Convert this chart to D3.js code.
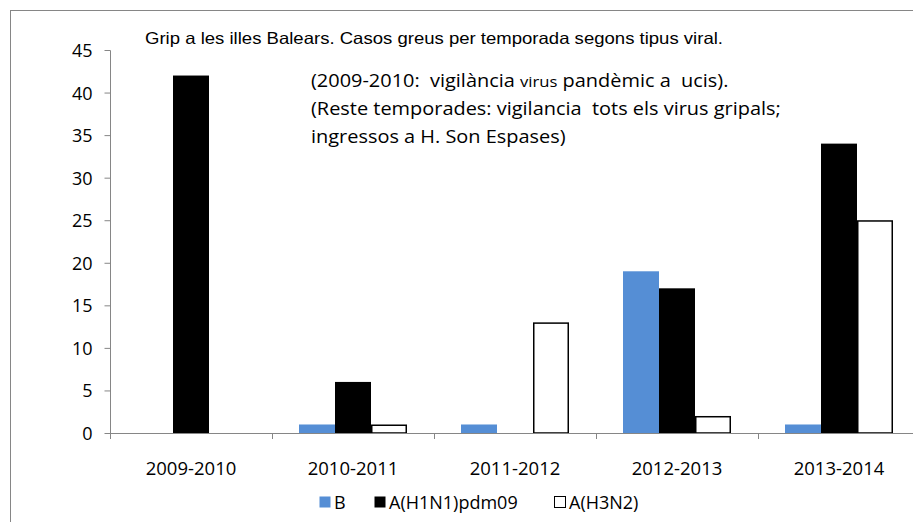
<!DOCTYPE html>
<html><head><meta charset="utf-8">
<script src="https://cdn.jsdelivr.net/npm/d3@7/dist/d3.min.js"></script>
<style>
html,body{margin:0;padding:0;background:#fff;}
svg{display:block;}
text{font-family:"Open Sans",sans-serif;fill:#000;}
</style></head>
<body>
<svg id="chart" width="913" height="522"></svg>
<script>
const categories = ["2009-2010","2010-2011","2011-2012","2012-2013","2013-2014"];
const seriesNames = ["B","A(H1N1)pdm09","A(H3N2)"];
const valuesB = [0,1,1,19,1];
const valuesH1N1 = [42,6,0,17,34];
const valuesH3N2 = [0,1,13,2,25];
const yTicks = [0,5,10,15,20,25,30,35,40,45];
const titleText = "Grip a les illes Balears. Casos greus per temporada segons tipus viral.";
const noteLines = [
  [["(2009-2010:  vigilància ",18],["virus",15],[" pandèmic a  ucis).",18]],
  [["(Reste temporades: vigilancia  tots els virus gripals;",18]],
  [["ingressos a H. Son Espases)",18]]
];

const seriesValues = [valuesB, valuesH1N1, valuesH3N2];
const fills = ["#558ED5","#000000","#FFFFFF"];
const strokes = ["none","none","#000000"];

const svg = d3.select("#chart");
const axisColor = "#868686";

// outer frame (cropped at right/bottom)
svg.append("rect").attr("x",10.5).attr("y",10.5).attr("width",1000).attr("height",600)
  .attr("fill","none").attr("stroke",axisColor).attr("stroke-width",1);

const x0 = d3.scaleBand().domain(categories).range([110,920]).padding(0);
const x1 = d3.scaleBand().domain(seriesNames).range([0,x0.bandwidth()]).paddingInner(0).paddingOuter(0.75);
const y = d3.scaleLinear().domain([0,45]).range([433,50]);

// bars
const groups = svg.append("g").selectAll("g").data(categories).join("g")
  .attr("transform", d => `translate(${x0(d)},0)`);
groups.each(function(cat, ci){
  const g = d3.select(this);
  seriesNames.forEach((s, si) => {
    const v = seriesValues[si][ci];
    if (v <= 0) return;
    const sw = si===2 ? 1.5 : 0;
    g.append("rect")
      .attr("x", x1(s) + sw/2)
      .attr("y", y(v) + sw/2)
      .attr("width", x1.bandwidth() - sw)
      .attr("height", y(0) - y(v) - sw/2)
      .attr("fill", fills[si])
      .attr("stroke", strokes[si])
      .attr("stroke-width", sw);
  });
});

// y axis
const yAxis = svg.append("g").attr("transform","translate(110.5,0)")
  .call(d3.axisLeft(y).tickValues(yTicks).tickSize(6).tickPadding(12).tickFormat(d3.format("d")));
yAxis.select(".domain").attr("stroke",axisColor).attr("d","M-0,50.5V433.5");
yAxis.selectAll(".tick line").attr("stroke",axisColor);
yAxis.selectAll(".tick text").attr("font-family","Open Sans").attr("font-size","18px").attr("fill","#000").attr("dy","0.36em");

// x axis
const xAxis = svg.append("g").attr("transform","translate(0,433.5)")
  .call(d3.axisBottom(x0).tickSize(0).tickPadding(0));
xAxis.select(".domain").attr("stroke",axisColor).attr("d","M110,0H920");
xAxis.selectAll(".tick text").attr("font-family","Open Sans").attr("font-size","18.5px").attr("fill","#000")
  .attr("dy",null).attr("y",41.5);
const bounds = categories.map(c => x0(c)).concat([x0.range()[1]]);
svg.append("g").selectAll("line").data(bounds).join("line")
  .attr("x1", d => Math.round(d)+0.5).attr("x2", d => Math.round(d)+0.5)
  .attr("y1",433).attr("y2",439).attr("stroke",axisColor);

// title
svg.append("text").attr("x",145).attr("y",44)
  .attr("font-size","16.5px")
  .attr("textLength",578).attr("lengthAdjust","spacingAndGlyphs")
  .style("font-family","'Liberation Sans', Arial, sans-serif")
  .text(titleText);

// note (horizontally stretched like the reference)
const noteBaselines = [87,115,143];
const noteX = 311;
const noteG = svg.append("g");
const noteNodes = noteLines.map((parts, i) => {
  const t = noteG.append("text").attr("x",noteX).attr("y",noteBaselines[i]).style("white-space","pre");
  parts.forEach(p => t.append("tspan").attr("font-size", p[1]+"px").text(p[0]));
  return t;
});
const w2 = noteNodes[1].node().getComputedTextLength();
const stretch = w2 > 0 ? 470 / w2 : 1;
noteG.attr("transform", `translate(${noteX},0) scale(${stretch},1) translate(${-noteX},0)`);

// legend
const legendX = [319, 374, 554];
const leg = svg.append("g");
seriesNames.forEach((s, i) => {
  leg.append("rect").attr("x",legendX[i]+0.5).attr("y",496.5).attr("width",11).attr("height",11)
    .attr("fill",fills[i]).attr("stroke", i===2 ? "#000" : "none").attr("stroke-width",1);
  leg.append("text").attr("x",legendX[i]+15).attr("y",509).attr("font-size","18px").text(s);
});
</script>
</body></html>
